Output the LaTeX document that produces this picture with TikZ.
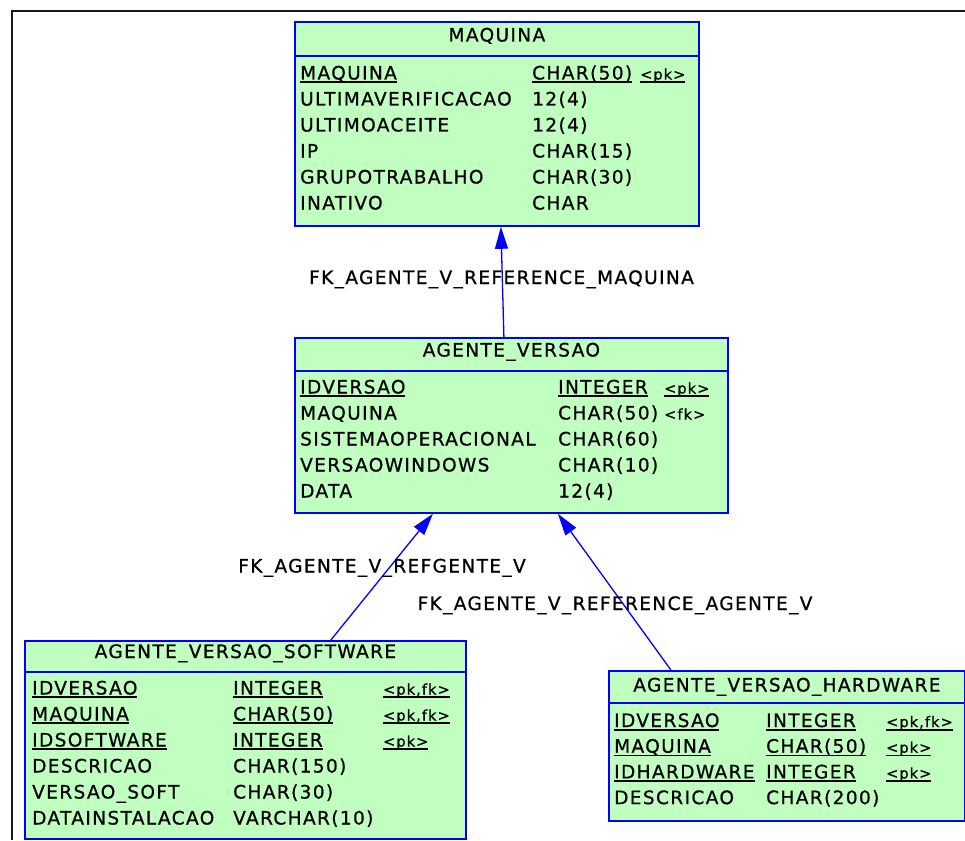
\documentclass[tikz,border=0pt]{standalone}
\usepackage{fontspec}
\setmainfont{DejaVu Sans}[LetterSpace=7.5, FakeBold=0.8]
\usetikzlibrary{arrows.meta}

\definecolor{entitygreen}{RGB}{192,255,192}
\newsavebox\keybox
\newcommand\keyline[1]{\sbox\keybox{#1}\rlap{\rule[-3.5pt]{\wd\keybox}{1.6pt}}\usebox\keybox}

\begin{document}
\begin{tikzpicture} [x=1pt, y=-1pt,
				entity/.style={
				% The shape:
				rectangle, anchor=north west,
				% The border:
				line width=1.8pt, draw=blue,
				% The filling:
				fill=entitygreen
				},
				divider/.style={
				line width=1.8pt, draw=blue
				},
				entityname/.style={
				anchor=base,
				font=\fontsize{18.5}{20}\selectfont
				},
				field/.style={
				anchor=base west,
				font=\fontsize{18.5}{20}\selectfont
				},
				flag/.style={
				anchor=base west,
				font=\fontsize{14.5}{17}\selectfont
				},
				fk/.style={
				draw=blue, line width=1.3pt,
				-{Triangle[length=22pt,width=13pt]}
				},
				fklabel/.style={
				anchor=base,
				font=\fontsize{18.5}{20}\selectfont
				},
				]
    \tikzstyle{every node} = [inner sep=0pt]
    \useasboundingbox (0,0) rectangle (965,840);
    % frame
    \draw[line width=1.8pt, black!90] (965,11) -- (12,11) -- (12,840);

    % MAQUINA
    \node [entity, minimum width=404pt, minimum height=204pt] (maq) at (294,21) {};
    \draw [divider] ([yshift=-35pt]maq.north west) -- ([yshift=-35pt]maq.north east);
    \node [entityname] (maq-title) at ([yshift=-20.5pt]maq.north) {MAQUINA};
    \foreach \nm/\ty/\ky [count=\r] in {
        {\keyline{MAQUINA}}/{\keyline{CHAR(50)}}/{\keyline{<pk>}},
        ULTIMAVERIFICACAO/12(4)/{},
        ULTIMOACEITE/12(4)/{},
        IP/CHAR(15)/{},
        GRUPOTRABALHO/CHAR(30)/{},
        INATIVO/CHAR/{}}
    {
        \node [field] (maq-n\r) at (300,{53.5+26*\r}) {\nm};
        \node [field] (maq-t\r) at (532,{53.5+26*\r}) {\ty};
        \node [flag] (maq-k\r) at (640,{53.5+26*\r}) {\ky};
    }

    % AGENTE_VERSAO
    \node [entity, minimum width=433pt, minimum height=175pt] (ver) at (294,337) {};
    \draw [divider] ([yshift=-34pt]ver.north west) -- ([yshift=-34pt]ver.north east);
    \node [entityname] (ver-title) at ([yshift=-19.5pt]ver.north) {AGENTE\_VERSAO};
    \foreach \nm/\ty/\ky [count=\r] in {
        {\keyline{IDVERSAO}}/{\keyline{INTEGER}}/{\keyline{<pk>}},
        MAQUINA/CHAR(50)/{<fk>},
        SISTEMAOPERACIONAL/CHAR(60)/{},
        VERSAOWINDOWS/CHAR(10)/{},
        DATA/12(4)/{}}
    {
        \node [field] (ver-n\r) at (300,{367.5+26*\r}) {\nm};
        \node [field] (ver-t\r) at (558,{367.5+26*\r}) {\ty};
        \node [flag] (ver-k\r) at (664,{367.5+26*\r}) {\ky};
    }

    % AGENTE_VERSAO_SOFTWARE
    \node [entity, minimum width=441pt, minimum height=198pt] (sw) at (24,640) {};
    \draw [divider] ([yshift=-32pt]sw.north west) -- ([yshift=-32pt]sw.north east);
    \node [entityname] (sw-title) at ([yshift=-18pt]sw.north) {AGENTE\_VERSAO\_SOFTWARE};
    \foreach \nm/\ty/\ky [count=\r] in {
        {\keyline{IDVERSAO}}/{\keyline{INTEGER}}/{\keyline{<pk,fk>}},
        {\keyline{MAQUINA}}/{\keyline{CHAR(50)}}/{\keyline{<pk,fk>}},
        {\keyline{IDSOFTWARE}}/{\keyline{INTEGER}}/{\keyline{<pk>}},
        DESCRICAO/CHAR(150)/{},
        VERSAO\_SOFT/CHAR(30)/{},
        DATAINSTALACAO/VARCHAR(10)/{}}
    {
        \node [field] (sw-n\r) at (32,{668.5+26*\r}) {\nm};
        \node [field] (sw-t\r) at (233,{668.5+26*\r}) {\ty};
        \node [flag] (sw-k\r) at (383,{668.5+26*\r}) {\ky};
    }

    % AGENTE_VERSAO_HARDWARE
    \node [entity, minimum width=356pt, minimum height=150pt] (hw) at (608,670) {};
    \draw [divider] ([yshift=-33pt]hw.north west) -- ([yshift=-33pt]hw.north east);
    \node [entityname] (hw-title) at ([yshift=-21.5pt]hw.north) {AGENTE\_VERSAO\_HARDWARE};
    \foreach \nm/\ty/\ky [count=\r] in {
        {\keyline{IDVERSAO}}/{\keyline{INTEGER}}/{\keyline{<pk,fk>}},
        {\keyline{MAQUINA}}/{\keyline{CHAR(50)}}/{\keyline{<pk>}},
        {\keyline{IDHARDWARE}}/{\keyline{INTEGER}}/{\keyline{<pk>}},
        DESCRICAO/CHAR(200)/{}}
    {
        \node [field] (hw-n\r) at (614,{701.3+25.7*\r}) {\nm};
        \node [field] (hw-t\r) at (766,{701.3+25.7*\r}) {\ty};
        \node [flag] (hw-k\r) at (886,{701.3+25.7*\r}) {\ky};
    }

    % references
    \draw [fk] ([xshift=-7.5pt]ver.north) -- ([xshift=4pt]maq.south);
    \draw [fk] ([xshift=85.5pt]sw.north) -- ([xshift=-78.5pt]ver.south);
    \draw [fk] ([xshift=-116pt]hw.north) -- ([xshift=46.5pt]ver.south);
    \node [fklabel] (ref-maq) at (501.5,284) {FK\_AGENTE\_V\_REFERENCE\_MAQUINA};
    \node [fklabel] (ref-sw) at (382,572.5) {FK\_AGENTE\_V\_REFGENTE\_V};
    \node [fklabel] (ref-hw) at (615,610) {FK\_AGENTE\_V\_REFERENCE\_AGENTE\_V};
\end{tikzpicture}
\end{document}
